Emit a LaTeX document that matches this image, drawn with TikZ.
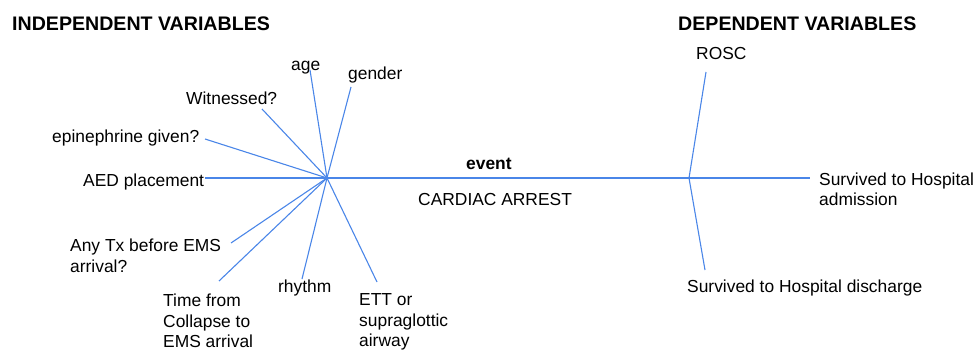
\documentclass[tikz,border=0pt]{standalone}
\usepackage{fontspec}
\setmainfont{Liberation Sans}
\definecolor{lineblue}{RGB}{74,134,232}
\begin{document}
\begin{tikzpicture}[x=1pt,y=-1pt,
  lbl/.style={inner sep=0pt, font=\fontsize{17.4}{20.5}\selectfont, align=left, anchor=base west},
  ttl/.style={inner sep=0pt, font=\bfseries\fontsize{19.6}{23}\selectfont, anchor=base west},
  conn/.style={draw=lineblue, line width=1.1pt}]
\useasboundingbox (0,0) rectangle (976,350);
% titles
\node[ttl] (indep) at (12,30.5) {INDEPENDENT VARIABLES};
\node[ttl] (dep) at (678,30.5) {DEPENDENT VARIABLES};
% independent variables (multi-line nodes: base = last line)
\node[lbl] (age) at (291,71) {age};
\node[lbl] (gender) at (348,80) {gender};
\node[lbl] (wit) at (186,105) {Witnessed?};
\node[lbl] (epi) at (52,142) {epinephrine given?};
\node[lbl] (aed) at (83,186) {AED placement};
\node[lbl] (tx) at (70,272) {Any Tx before EMS\\arrival?};
\node[lbl] (time) at (163,347.5) {Time from\\Collapse to\\EMS arrival};
\node[lbl] (rhy) at (278,292) {rhythm};
\node[lbl] (ett) at (359,346.5) {ETT or\\supraglottic\\airway};
% event
\node[lbl, font=\bfseries\fontsize{17.4}{20.5}\selectfont] (event) at (466,169) {event};
\node[lbl] (ca) at (418,205) {CARDIAC ARREST};
% dependent variables
\node[lbl] (rosc) at (696,60) {ROSC};
\node[lbl] (adm) at (819,205.5) {Survived to Hospital\\admission};
\node[lbl] (dis) at (687,292) {Survived to Hospital discharge};
% connector points
\coordinate (hub) at (327,178);
\coordinate (hubR) at (689,178);
\coordinate (eMain) at (810,178);
\coordinate (eAge) at (310,70);
\coordinate (eGender) at (351,87);
\coordinate (eWit) at (262,109);
\coordinate (eEpi) at (205,139);
\coordinate (eAed) at (205,178);
\coordinate (eTx) at (231,243);
\coordinate (eTime) at (219,281);
\coordinate (eRhy) at (302,279);
\coordinate (eEtt) at (377,282);
\coordinate (eRosc) at (706,72);
\coordinate (eDis) at (705,270);
% connectors
\draw[conn] (eAge) -- (hub);
\draw[conn] (eGender) -- (hub);
\draw[conn] (eWit) -- (hub);
\draw[conn] (eEpi) -- (hub);
\draw[conn] (eAed) -- (hub);
\draw[conn] (eTx) -- (hub);
\draw[conn] (eTime) -- (hub);
\draw[conn] (eRhy) -- (hub);
\draw[conn] (eEtt) -- (hub);
\draw[conn] (hub) -- (hubR) -- (eMain);
\draw[conn] (eRosc) -- (hubR) -- (eDis);
\end{tikzpicture}
\end{document}
